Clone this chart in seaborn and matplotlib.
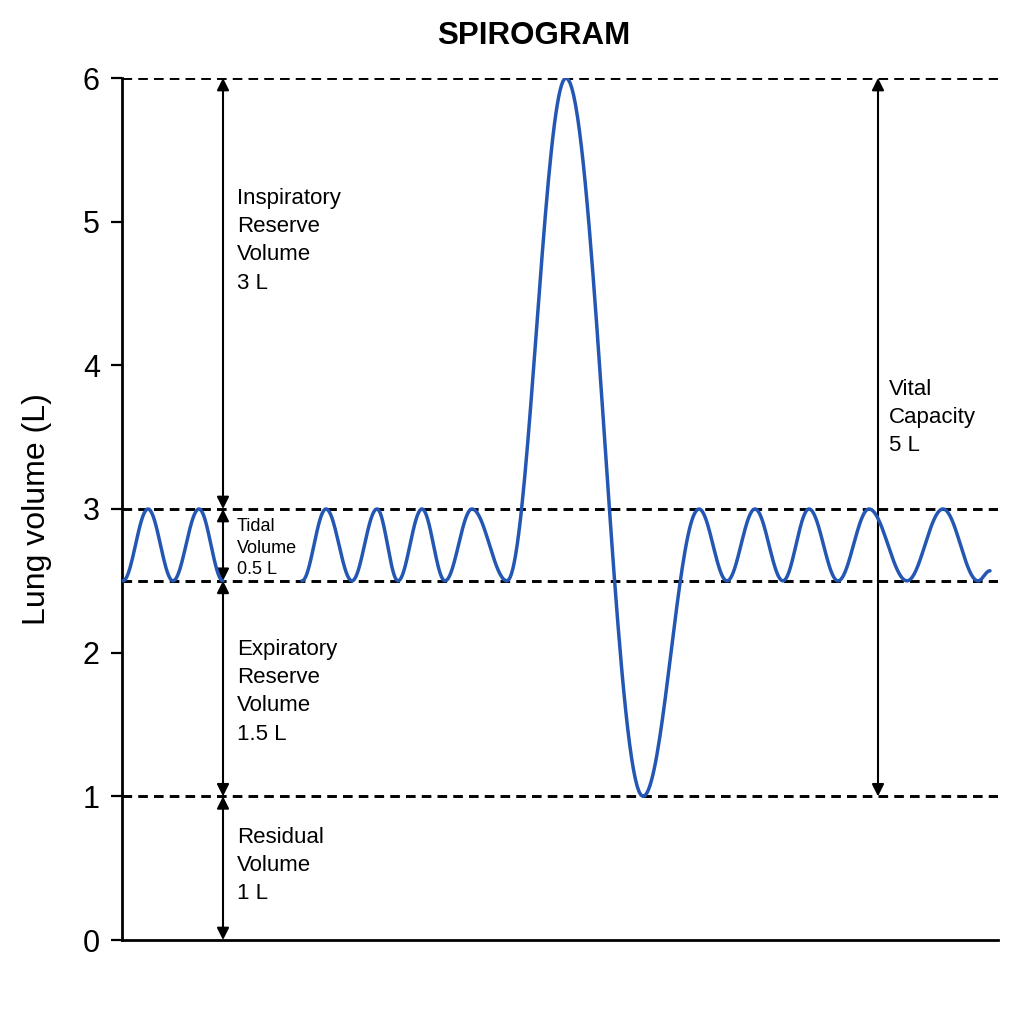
import numpy as np
import pandas as pd
import seaborn as sns
import matplotlib.pyplot as plt

# extrema of the trace (time in arbitrary units)
t_first = [123, 148, 173, 199, 223]
v_first = [2.5, 3.0, 2.5, 3.0, 2.5]
t_second = [302, 326, 352, 377, 398, 422, 445, 472, 507, 566, 643,
            699, 727, 755, 783, 809, 838, 869, 907, 943, 978, 990]
v_second = [2.5, 3.0, 2.5, 3.0, 2.5, 3.0, 2.5, 3.0, 2.5, 6.0, 1.0,
            3.0, 2.5, 3.0, 2.5, 3.0, 2.5, 3.0, 2.5, 3.0, 2.5, 2.57]

levels = [6, 3, 2.5, 1]
y_ticks = [0, 1, 2, 3, 4, 5, 6]

# (x, lower, upper, label, label x, label y, font size)
spans = [(223, 3.0, 6.0, 'Inspiratory\nReserve\nVolume\n3 L', 237, 5.235, 16),
         (223, 2.5, 3.0, 'Tidal\nVolume\n0.5 L', 237, 2.935, 13),
         (223, 1.0, 2.5, 'Expiratory\nReserve\nVolume\n1.5 L', 237, 2.095, 16),
         (223, 0.0, 1.0, 'Residual\nVolume\n1 L', 237, 0.79, 16),
         (878, 1.0, 6.0, 'Vital\nCapacity\n5 L', 889, 3.905, 16)]


def smooth(ts, vs, n=40):
    # half-cosine easing between consecutive turning points
    xs, ys = [], []
    for i in range(len(ts) - 1):
        s = np.linspace(0, 1, n, endpoint=False)
        w = (1 - np.cos(np.pi * s)) / 2
        xs.extend(ts[i] + (ts[i+1] - ts[i]) * s)
        ys.extend(vs[i] + (vs[i+1] - vs[i]) * w)
    xs.append(ts[-1])
    ys.append(vs[-1])
    return xs, ys


x1, y1 = smooth(t_first, v_first)
x2, y2 = smooth(t_second, v_second)
df = pd.DataFrame({'t': x1 + x2, 'v': y1 + y2,
                   'seg': ['a'] * len(x1) + ['b'] * len(x2)})

sns.set_style('white')
plt.rcParams['font.family'] = ['Liberation Sans', 'DejaVu Sans']
plt.rcParams['text.color'] = 'black'
plt.rcParams['axes.labelcolor'] = 'black'
plt.rcParams['ytick.color'] = 'black'

fig = plt.figure(figsize=(10.24, 10.24), dpi=100, facecolor='white')
ax = fig.add_axes([122/1024, 84/1024, 876/1024, 862/1024])

for lv in levels:
    ax.axhline(lv, color='black', lw=2.1, dashes=(3.3, 2.1), zorder=1)

sns.lineplot(data=df, x='t', y='v', units='seg', estimator=None,
             color='#2457b3', lw=2.5, ax=ax, zorder=3)

for x, lo, hi, lab, tx, ty, fs in spans:
    ax.annotate('', xy=(x, lo), xytext=(x, hi),
                arrowprops=dict(arrowstyle='<|-|>', color='black', lw=1.5,
                                mutation_scale=18, shrinkA=0, shrinkB=0),
                zorder=2)
    ax.text(tx, ty, lab, fontsize=fs, va='top', ha='left',
            linespacing=1.45 if fs > 14 else 1.35)

ax.set_xlim(122, 998)
ax.set_ylim(0, 6)
ax.set_yticks(y_ticks)
ax.set_xticks([])
ax.tick_params(axis='y', labelsize=22, length=8, width=1.6, direction='out',
               left=True, pad=8)
sns.despine(ax=ax)
for side in ['left', 'bottom']:
    ax.spines[side].set_linewidth(2.0)
    ax.spines[side].set_color('black')
ax.set_xlabel('')
ax.set_ylabel('Lung volume (L)', fontsize=23, labelpad=22)

fig.text(534/1024, 1 - 36/1024, 'SPIROGRAM', fontsize=22.5, fontweight='bold',
         ha='center', va='center')

plt.savefig('out.png', dpi=100, facecolor='white')
